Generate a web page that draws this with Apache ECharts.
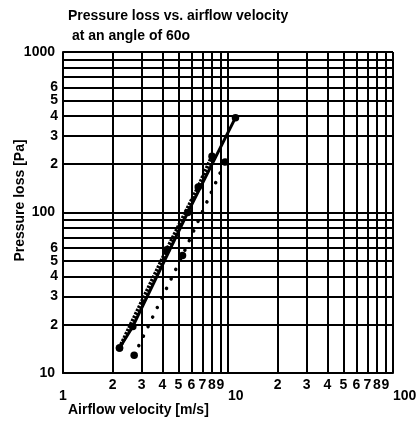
<!DOCTYPE html>
<html><head><meta charset="utf-8">
<script src="https://cdn.jsdelivr.net/npm/echarts@6/dist/echarts.min.js"></script>
<style>html,body{margin:0;padding:0;background:#fff}#c{width:419px;height:426px}</style>
</head><body><div id="c"></div><script>
const titleText = 'Pressure loss vs. airflow velocity\n at an angle of 60o';
const xTitle = 'Airflow velocity [m/s]';
const yTitle = 'Pressure loss [Pa]';
const xMajorTicks = [1, 10, 100];
const xMajorLabels = ['1', '10', '100'];
const xMinorTicks = [2, 3, 4, 5, 6, 7, 8, 9, 20, 30, 40, 50, 60, 70, 80, 90];
const xMinorLabels = ['2', '3', '4', '5', '6', '7', '8', '9', '2', '3', '4', '5', '6', '7', '8', '9'];
const yMinorTicks = [20, 30, 40, 50, 60, 70, 80, 90, 200, 300, 400, 500, 600, 700, 800, 900];
const yMinorLabels = ['2', '3', '4', '5', '6', '', '', '', '2', '3', '4', '5', '6', '', '', ''];
const solidX = [2.2, 2.65, 5.7, 11.1];
const solidY = [14.3, 19.5, 100, 390];
const denseX = [2.2, 4.25, 6.6, 8.0];
const denseY = [14.3, 58.5, 144, 224];
const sparseX = [2.7, 5.3, 9.6];
const sparseY = [12.9, 54, 206];

const FONT = 'Liberation Sans';
const gridLines = [];
xMinorTicks.forEach((v, i) => gridLines.push({ xAxis: v, label: { formatter: xMinorLabels[i] } }));
xMajorTicks.forEach((v, i) => gridLines.push({
  xAxis: v,
  label: { formatter: xMajorLabels[i], distance: 16, align: i === 0 ? 'center' : 'left' }
}));
yMinorTicks.forEach((v, i) => gridLines.push({
  yAxis: v, label: { show: yMinorLabels[i] !== '', formatter: yMinorLabels[i] || ' ' }
}));

const chart = echarts.init(document.getElementById('c'), null, { renderer: 'canvas' });
chart.setOption({
  animation: false,
  backgroundColor: '#fff',
  title: [
    { text: titleText, left: 68, top: 6, padding: 0, textStyle: { fontFamily: FONT, fontSize: 14, fontWeight: 'bold', color: '#000', lineHeight: 20 } },
    { text: xTitle, left: 68, top: 400, padding: 0, textStyle: { fontFamily: FONT, fontSize: 14, fontWeight: 'bold', color: '#000', lineHeight: 20 } }
  ],
  grid: { left: 63, right: 26, top: 52, bottom: 53, containLabel: false, outerBoundsMode: 'none' },
  xAxis: {
    type: 'log', logBase: 10, min: 1, max: 100,
    axisLine: { show: true, lineStyle: { color: '#000', width: 2 } },
    axisTick: { show: false },
    axisLabel: { show: false },
    splitLine: { show: true, lineStyle: { color: '#000', width: 2 } }
  },
  yAxis: {
    type: 'log', logBase: 10, min: 10, max: 1000,
    name: yTitle, nameLocation: 'middle', nameRotate: 90, nameGap: 36, nameMoveOverlap: false,
    nameTextStyle: { fontFamily: FONT, fontSize: 14, fontWeight: 'bold', color: '#000', padding: [0, 0, 0, 24] },
    axisLine: { show: true, lineStyle: { color: '#000', width: 2 } },
    axisTick: { show: false },
    axisLabel: { show: true, margin: 8, fontFamily: FONT, fontSize: 14, fontWeight: 'bold', color: '#000', formatter: v => String(Math.round(v)) },
    splitLine: { show: true, lineStyle: { color: '#000', width: 2 } }
  },
  series: [
    {
      type: 'line', data: [], z: 1,
      markLine: {
        silent: true, symbol: ['none', 'none'], animation: false, z: 1,
        lineStyle: { color: '#000', width: 2, type: 'solid' },
        label: { show: true, position: 'start', distance: 5, fontFamily: FONT, fontSize: 14, fontWeight: 'bold', color: '#000' },
        emphasis: { disabled: true },
        data: gridLines
      }
    },
    {
      type: 'line', z: 10, data: denseX.map((x, i) => [x, denseY[i]]),
      symbol: 'circle', symbolSize: 7.5, showSymbol: true,
      itemStyle: { color: '#000' },
      lineStyle: { color: '#000', width: 4, type: [2.5, 1.2] }
    },
    {
      type: 'line', z: 10, data: solidX.map((x, i) => [x, solidY[i]]),
      symbol: 'circle', symbolSize: 7.5, showSymbol: true,
      itemStyle: { color: '#000' },
      lineStyle: { color: '#000', width: 3, type: 'solid' }
    },
    {
      type: 'line', z: 10, data: sparseX.map((x, i) => [x, sparseY[i]]),
      symbol: 'circle', symbolSize: 7.5, showSymbol: true,
      itemStyle: { color: '#000' },
      lineStyle: { color: '#000', width: 3.5, type: [0.1, 10.5], cap: 'round' }
    }
  ]
});
</script></body></html>
